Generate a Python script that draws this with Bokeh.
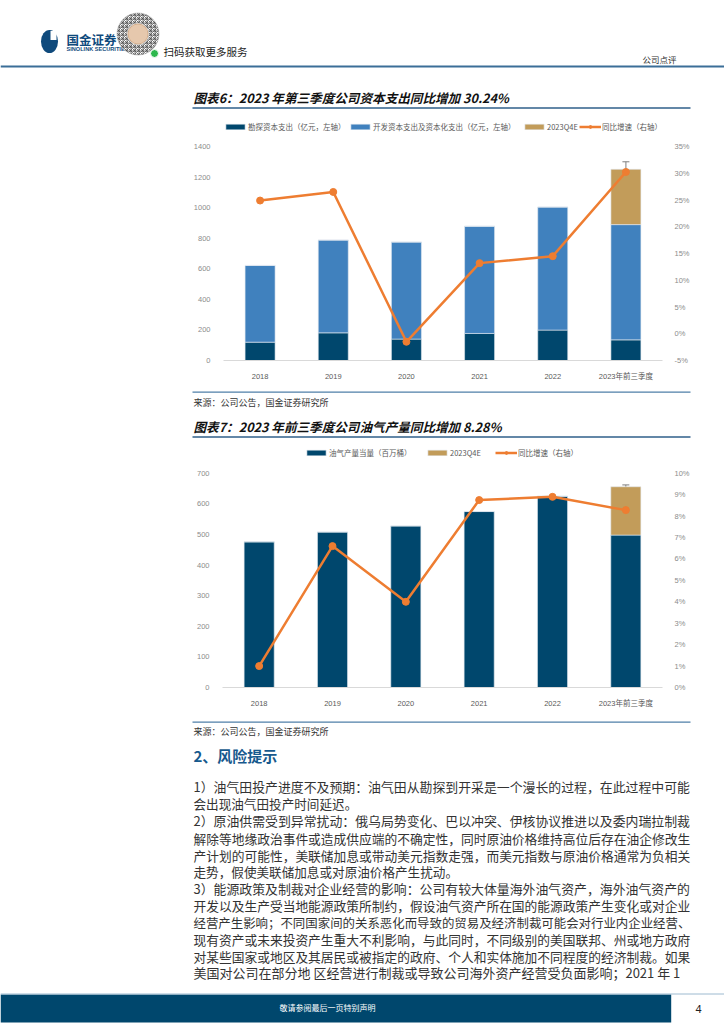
from bokeh.plotting import figure
from bokeh.models import (ColumnDataSource, FactorRange, Range1d, LinearAxis, FixedTicker,
                          PrintfTickFormatter, Legend, LegendItem, Whisker, TeeHead)
from bokeh.layouts import column
from bokeh.embed import file_html
from bokeh.resources import INLINE
from bokeh.core.properties import value

# ---------------- data ----------------
years = ["2018", "2019", "2020", "2021", "2022", "2023年前三季度"]

capex_explore = [120, 181, 140, 177, 199, 135]      # 勘探资本支出（亿元）
capex_develop = [502, 607, 635, 701, 805, 754]      # 开发资本支出及资本化支出（亿元）
capex_q4e = [0, 0, 0, 0, 0, 362]                    # 2023Q4E
capex_growth = [24.9, 26.5, -1.5, 13.2, 14.5, 30.24]  # 同比增速 %
capex_err_low = [1200]
capex_err_high = [1300]

prod_volume = [476, 508, 528, 575, 625, 498]        # 油气产量当量（百万桶）
prod_q4e = [0, 0, 0, 0, 0, 158]                     # 2023Q4E
prod_growth = [1.0, 6.6, 4.0, 8.75, 8.9, 8.28]      # 同比增速 %
prod_err_low = [650]
prod_err_high = [662]

capex_left_ticks = [0, 200, 400, 600, 800, 1000, 1200, 1400]
capex_right_ticks = [-5, 0, 5, 10, 15, 20, 25, 30, 35]
prod_left_ticks = [0, 100, 200, 300, 400, 500, 600, 700]
prod_right_ticks = [0, 1, 2, 3, 4, 5, 6, 7, 8, 9, 10]

capex_labels = ["勘探资本支出（亿元，左轴）", "开发资本支出及资本化支出（亿元，左轴）",
                "2023Q4E", "同比增速（右轴）"]
prod_labels = ["油气产量当量（百万桶）", "2023Q4E", "同比增速（右轴）"]

title6 = "图表6：2023 年第三季度公司资本支出同比增加 30.24%"
title7 = "图表7：2023 年前三季度公司油气产量同比增加 8.28%"
source_text = "来源：公司公告，国金证券研究所"
heading = "2、风险提示"
body_lines = [
    ("1）油气田投产进度不及预期：油气田从勘探到开采是一个漫长的过程，在此过程中可能", True),
    ("会出现油气田投产时间延迟。", False),
    ("2）原油供需受到异常扰动：俄乌局势变化、巴以冲突、伊核协议推进以及委内瑞拉制裁", True),
    ("解除等地缘政治事件或造成供应端的不确定性，同时原油价格维持高位后存在油企修改生", True),
    ("产计划的可能性，美联储加息或带动美元指数走强，而美元指数与原油价格通常为负相关", True),
    ("走势，假使美联储加息或对原油价格产生扰动。", False),
    ("3）能源政策及制裁对企业经营的影响：公司有较大体量海外油气资产，海外油气资产的", True),
    ("开发以及生产受当地能源政策所制约，假设油气资产所在国的能源政策产生变化或对企业", True),
    ("经营产生影响；不同国家间的关系恶化而导致的贸易及经济制裁可能会对行业内企业经营、", True),
    ("现有资产或未来投资产生重大不利影响，与此同时，不同级别的美国联邦、州或地方政府", True),
    ("对某些国家或地区及其居民或被指定的政府、个人和实体施加不同程度的经济制裁。如果", True),
    ("美国对公司在部分地 区经营进行制裁或导致公司海外资产经营受负面影响；2021 年 1", True),
]
body_y = [786, 803, 820, 837.5, 854.5, 871, 888, 905, 922, 939, 955.5, 972]

# ---------------- styles ----------------
W = 724
NAVY = "#00476d"
BLUE = "#4081be"
TAN = "#c29c5a"
ORANGE = "#ee7d31"
LOGO = "#0f4a7c"
CJK = "Noto Sans CJK SC"
LAT = "Liberation Sans"


def em_width(s):
    w = 0.0
    for ch in s:
        o = ord(ch)
        if o >= 0x2E80:
            w += 1.0
        elif ch == " ":
            w += 0.28
        elif ch in ".,":
            w += 0.27
        elif ch == "%":
            w += 0.85
        else:
            w += 0.55
    return w


def deco(top, bottom):
    p = figure(width=W, height=int(round(bottom - top)),
               x_range=Range1d(0, W), y_range=Range1d(bottom, top),
               x_axis_location=None, y_axis_location=None,
               toolbar_location=None, output_backend="svg",
               min_border=0, outline_line_color=None, frame_align=False)
    p.grid.visible = False
    return p


def txt(p, x, y, s, size, color="#222222", font=CJK, style="normal", align="left"):
    p.text(x=[x], y=[y], text=[s], text_font=value(font),
           text_font_size=value(f"{size}px"), text_color=color,
           text_font_style=style, text_align=align, text_baseline="middle")


def hline(p, x0, x1, y, color, w):
    p.segment(x0=[x0], y0=[y], x1=[x1], y1=[y], line_color=color, line_width=w)


def style_axis(ax, color, standoff):
    ax.axis_line_color = None
    ax.major_tick_line_color = None
    ax.minor_tick_line_color = None
    ax.major_label_standoff = standoff
    ax.major_label_text_font_size = "7.5px"
    ax.major_label_text_color = color
    ax.major_label_text_font = LAT


def chart(height, mb_top, mb_bottom, mb_left, y_end, pct_rng, lticks, rticks):
    p = figure(width=W, height=height,
               x_range=FactorRange(factors=years, range_padding=0),
               y_range=Range1d(0, y_end), toolbar_location=None, output_backend="svg",
               min_border_top=mb_top, min_border_bottom=mb_bottom,
               min_border_left=mb_left, min_border_right=W - 662,
               outline_line_color=None, background_fill_color="white",
               frame_align=False)
    p.extra_y_ranges = {"pct": Range1d(*pct_rng)}
    p.grid.visible = False
    ya = p.yaxis[0]
    ya.ticker = FixedTicker(ticks=lticks)
    style_axis(ya, "#8c8c8c", 7)
    ra = LinearAxis(y_range_name="pct", ticker=FixedTicker(ticks=rticks),
                    formatter=PrintfTickFormatter(format="%d%%"))
    style_axis(ra, "#8c8c8c", 6)
    p.add_layout(ra, "right")
    xa = p.xaxis[0]
    xa.axis_line_color = "#d9d9d9"
    xa.axis_line_width = 1
    xa.major_tick_line_color = None
    xa.minor_tick_line_color = None
    xa.major_label_standoff = 5
    xa.major_label_text_font_size = "7.5px"
    xa.major_label_text_color = "#595959"
    xa.major_label_text_font = f"{LAT}, {CJK}"
    return p


def add_legend_item(p, label, renderers, vx, vy, gw):
    p.add_layout(Legend(items=[LegendItem(label=label, renderers=renderers)],
                        location=(vx, vy), orientation="horizontal",
                        label_text_font=CJK, label_text_font_size="7.5px",
                        label_text_color="#595959", glyph_width=gw, glyph_height=7,
                        label_height=8, label_standoff=1, spacing=0,
                        padding=0, margin=0, border_line_color=None,
                        background_fill_alpha=0))


# ---------------- section A: header + title 6 ----------------
pA = deco(0, 112)
pA.ellipse(x=[49], y=[41], width=17, height=23, fill_color=LOGO, line_color=None)
pA.rect(x=[53], y=[35], width=6, height=9, fill_color="white", line_color=None)
txt(pA, 66, 39, "国金证券", 12.5, LOGO, style="bold")
txt(pA, 66, 48.5, "SINOLINK SECURITIES", 5.6, LOGO, font=LAT, style="bold")
pA.annulus(x=[137.5], y=[33.5], inner_radius=11, outer_radius=21,
           fill_color="white", line_color="#9a9a9a", line_width=0.5,
           hatch_pattern="criss_cross", hatch_color="#4d4d4d", hatch_scale=4, hatch_weight=0.8)
pA.circle(x=[137.5], y=[33.5], radius=10, fill_color="#e6c8ad", line_color="#d4ad8a")
pA.circle(x=[154], y=[53], radius=4, fill_color="#2db84d", line_color="white")
txt(pA, 163, 51, "扫码获取更多服务", 10.5, "#222222")
txt(pA, 642, 58, "公司点评", 8.5, "#333333")
hline(pA, 0, W, 66, "#3b6e98", 2)
txt(pA, 193, 97, title6, 12.6, "#111111", style="bold italic")
hline(pA, 192, 690, 107.5, "#2f5f8a", 1.5)

# ---------------- chart 6 ----------------
# frame from y 118 to 360; 1400 / 35% sit at y 146
p1 = chart(272, 6, 24, 223, 1400 * 242 / 214, (-5, -5 + 40 * 242 / 214),
           capex_left_ticks, capex_right_ticks)
src1 = ColumnDataSource(dict(year=years, explore=capex_explore, develop=capex_develop,
                             q4e=capex_q4e, growth=capex_growth))
bars1 = p1.vbar_stack(["explore", "develop", "q4e"], x="year", width=0.41,
                      fill_color=[NAVY, BLUE, TAN], line_color="#e3eaf0", line_width=0.6,
                      source=src1)
err1 = ColumnDataSource(dict(x=[years[-1]], lo=capex_err_low, hi=capex_err_high))
p1.add_layout(Whisker(source=err1, base="x", lower="lo", upper="hi",
                      line_color="#7f7f7f", line_width=1,
                      upper_head=TeeHead(size=7, line_color="#7f7f7f", line_width=1),
                      lower_head=TeeHead(size=7, line_color="#7f7f7f", line_width=1)))
l1 = p1.line(x="year", y="growth", source=src1, y_range_name="pct",
             line_color=ORANGE, line_width=2.5, level="overlay")
s1 = p1.scatter(x="year", y="growth", source=src1, y_range_name="pct",
                size=7, marker="circle", fill_color=ORANGE, line_color=ORANGE, level="overlay")
vy1 = 360 - 132
add_legend_item(p1, capex_labels[0], [bars1[0]], 0, vy1, 24)
add_legend_item(p1, capex_labels[1], [bars1[1]], 125, vy1, 24)
add_legend_item(p1, capex_labels[2], [bars1[2]], 299, vy1, 24)
add_legend_item(p1, capex_labels[3], [l1, s1], 356, vy1, 22)

# ---------------- section C: source + title 7 ----------------
pC = deco(384, 440)
hline(pC, 192, 690, 391.7, "#4f7fa8", 1.3)
txt(pC, 193, 401.7, source_text, 9, "#333333")
txt(pC, 193, 426, title7, 12.6, "#111111", style="bold italic")
hline(pC, 192, 690, 436.5, "#2f5f8a", 1.5)

# ---------------- chart 7 ----------------
# frame from y 446 to 689; 700 / 10% sit at y 473
p2 = chart(270, 6, 21, 222, 700 * 243 / 216, (0, 10 * 243 / 216),
           prod_left_ticks, prod_right_ticks)
src2 = ColumnDataSource(dict(year=years, volume=prod_volume, q4e=prod_q4e, growth=prod_growth))
bars2 = p2.vbar_stack(["volume", "q4e"], x="year", width=0.41,
                      fill_color=[NAVY, TAN], line_color="#e3eaf0", line_width=0.6,
                      source=src2)
err2 = ColumnDataSource(dict(x=[years[-1]], lo=prod_err_low, hi=prod_err_high))
p2.add_layout(Whisker(source=err2, base="x", lower="lo", upper="hi",
                      line_color="#7f7f7f", line_width=1,
                      upper_head=TeeHead(size=7, line_color="#7f7f7f", line_width=1),
                      lower_head=TeeHead(size=7, line_color="#7f7f7f", line_width=1)))
l2 = p2.line(x="year", y="growth", source=src2, y_range_name="pct",
             line_color=ORANGE, line_width=2.5, level="overlay")
s2 = p2.scatter(x="year", y="growth", source=src2, y_range_name="pct",
                size=7, marker="circle", fill_color=ORANGE, line_color=ORANGE, level="overlay")
vy2 = 689 - 460
add_legend_item(p2, prod_labels[0], [bars2[0]], 82, vy2, 24)
add_legend_item(p2, prod_labels[1], [bars2[1]], 203, vy2, 24)
add_legend_item(p2, prod_labels[2], [l2, s2], 273, vy2, 22)

# ---------------- section E: source, risk text, footer ----------------
pE = deco(710, 1024)
hline(pE, 192, 690, 721.7, "#4f7fa8", 1.3)
txt(pE, 193, 731, source_text, 9, "#333333")
txt(pE, 193, 755, heading, 15, "#17598d", style="bold")
for (s, just), y in zip(body_lines, body_y):
    fs = 497.0 / em_width(s) if just else 12.6
    fs = round(min(fs, 13.0), 2)
    txt(pE, 193, y, s, fs, "#333333")
pE.quad(left=[0], right=[670.7], top=[994], bottom=[1022], fill_color="#00476d", line_color=None)
hline(pE, 0, W, 993.5, "#9dbad0", 1)
txt(pE, 279, 1007, "敬请参阅最后一页特别声明", 8, "#ffffff")
txt(pE, 698, 1008, "4", 11, "#222222", font=LAT, align="center")

layout = column(pA, p1, pC, p2, pE)
open("out.html", "w").write(file_html(layout, INLINE))
